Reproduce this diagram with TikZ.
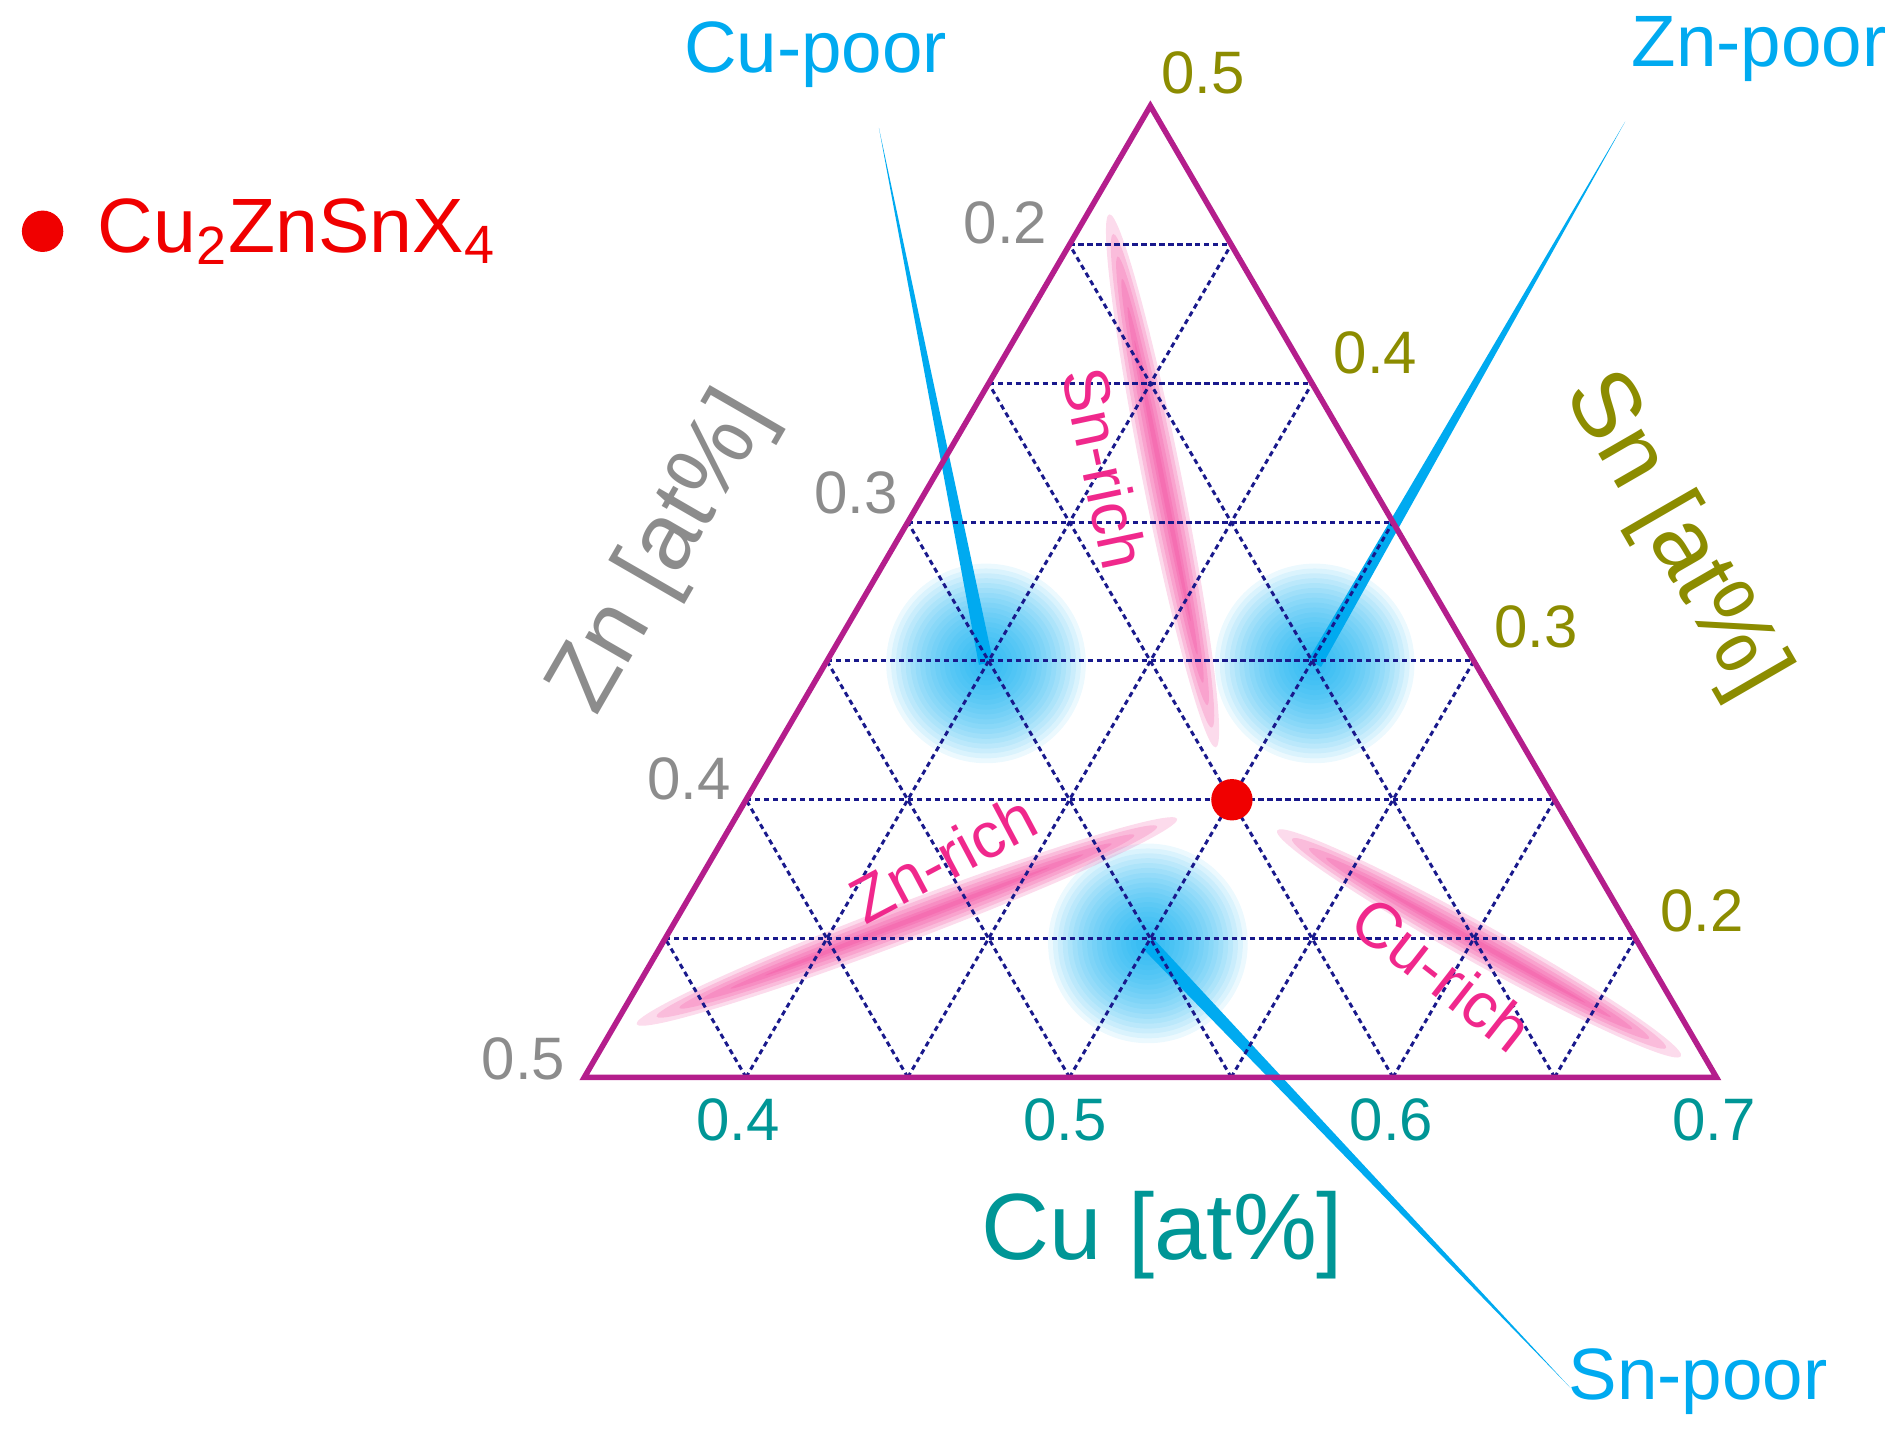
\documentclass[tikz,border=0pt]{standalone}
\usepackage{fontspec}
\setmainfont{Liberation Sans}
\usetikzlibrary{calc}
\definecolor{edge}{RGB}{180,30,140}
\definecolor{grid}{RGB}{25,25,140}
\definecolor{tealc}{RGB}{0,150,150}
\definecolor{olivec}{RGB}{140,140,0}
\definecolor{grayc}{RGB}{140,140,140}
\definecolor{pinkc}{RGB}{240,40,140}
\definecolor{cyanc}{RGB}{0,170,240}
\definecolor{redc}{RGB}{240,0,0}
\begin{document}
\begin{tikzpicture}[x=0.01cm,y=-0.01cm,
  tick/.style={font=\fontsize{14}{16}\selectfont},
  axl/.style={font=\fontsize{22}{26}\selectfont},
  poor/.style={text=cyanc,font=\fontsize{17}{20}\selectfont},
  rich/.style={text=pinkc,font=\fontsize{15}{18}\selectfont},
  gridline/.style={grid,dash pattern=on 1.2pt off 0.9pt,line width=0.7pt}]
\useasboundingbox (0,0) rectangle (1560,1177);
\coordinate (bA) at (810,545);
\coordinate (bB) at (1080,545);
\coordinate (bC) at (943,775);
\coordinate (cpT) at (722,105);
\coordinate (znT) at (1335,100);
\coordinate (snT) at (1290,1140);
% blobs
\foreach \r in {82,78,...,10}{
  \fill[cyanc,opacity=0.075] (bA) circle[radius=\r];
  \fill[cyanc,opacity=0.075] (bB) circle[radius=\r];
  \fill[cyanc,opacity=0.075] (bC) circle[radius=\r];
}
% pink streaks
\foreach \cx/\cy/\a/\len in {955/395/-78.7/235,745/757/20.8/250,1215/775/-29.2/200}{
  \foreach \w/\f in {16/0.95,13/0.88,10/0.8,7/0.72,4/0.62,2/0.5}{
    \fill[pinkc,opacity=0.17,rotate around={\a:(\cx,\cy)}] (\cx,\cy) ellipse[x radius=\len*\f, y radius=\w];}
}
% cyan wedges
\fill[cyanc] (cpT) -- ($(bA)!0.06cm!90:(cpT)$) -- ($(bA)!0.06cm!-90:(cpT)$) -- cycle;
\fill[cyanc] (znT) -- ($(bB)!0.06cm!90:(znT)$) -- ($(bB)!0.06cm!-90:(znT)$) -- cycle;
\fill[cyanc] (snT) -- ($(bC)!0.06cm!90:(snT)$) -- ($(bC)!0.06cm!-90:(snT)$) -- cycle;
% grid
\def\s{132.857}
\def\h{114}
\foreach \j in {1,...,6}{
  \draw[gridline] ({480+\j*\s/2},{885-\j*\h}) -- ({480+7*\s-\j*\s/2},{885-\j*\h});
}
\foreach \i in {1,...,6}{
  \draw[gridline] ({480+\i*\s},885) -- ({480+\i*\s+(7-\i)*\s/2},{885-(7-\i)*\h});
  \draw[gridline] ({480+\i*\s},885) -- ({480+\i*\s/2},{885-\i*\h});
}
% triangle
\coordinate (L) at (480,885);
\coordinate (R) at (1410,885);
\coordinate (T) at (945,87);
\draw[edge,line width=1.3pt,line join=miter] (L) -- (R) -- (T) -- cycle;
% red dot
\fill[redc] (1012,657) circle[radius=17];
\fill[redc] (35,190) circle[radius=17];
\node[anchor=west,text=redc,font=\fontsize{18}{20}\selectfont] (leg) at (68,190) {Cu\textsubscript{2}ZnSnX\textsubscript{4}};
% ticks
\node[tick,text=grayc] (zt1) at (826,183) {0.2};
\node[tick,text=grayc] (zt2) at (703,405) {0.3};
\node[tick,text=grayc] (zt3) at (566,640) {0.4};
\node[tick,text=grayc] (zt4) at (430,870) {0.5};
\node[tick,text=olivec] (st1) at (988,60) {0.5};
\node[tick,text=olivec] (st2) at (1130,290) {0.4};
\node[tick,text=olivec] (st3) at (1262,515) {0.3};
\node[tick,text=olivec] (st4) at (1398,748) {0.2};
\node[tick,text=tealc] (ct1) at (606,920) {0.4};
\node[tick,text=tealc] (ct2) at (875,920) {0.5};
\node[tick,text=tealc] (ct3) at (1143,920) {0.6};
\node[tick,text=tealc] (ct4) at (1408,920) {0.7};
% axis labels
\node[axl,text=grayc,rotate=60] (zl) at (545,455) {Zn [at\%]};
\node[axl,text=olivec,rotate=-60] (sl) at (1375,440) {Sn [at\%]};
\node[axl,text=tealc] (cl) at (955,1015) {Cu [at\%]};
% poor labels
\node[poor] (cp) at (670,45) {Cu-poor};
\node[poor] (zp) at (1445,40) {Zn-poor};
\node[poor] (sp) at (1395,1135) {Sn-poor};
% rich labels
\node[rich,rotate=-78] (sr) at (908,385) {Sn-rich};
\node[rich,rotate=28] (zr) at (775,705) {Zn-rich};
\node[rich,rotate=-38] (cr) at (1185,800) {Cu-rich};
\end{tikzpicture}
\end{document}
